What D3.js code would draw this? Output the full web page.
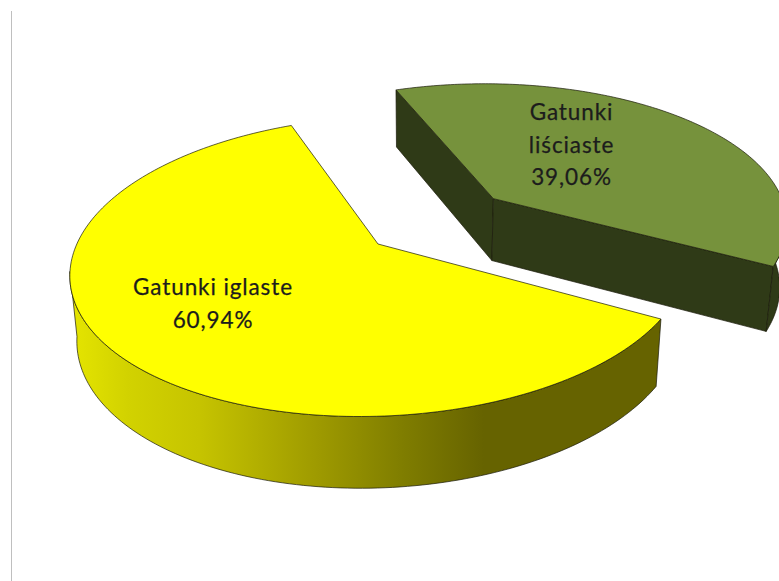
<!DOCTYPE html>
<html>
<head>
<meta charset="utf-8">
<script src="https://cdn.jsdelivr.net/npm/d3@7"></script>
<style>
  html, body { margin: 0; padding: 0; background: #fff; overflow: hidden; }
  svg { display: block; }
</style>
</head>
<body>
<svg id="chart" width="779" height="581"></svg>
<script>
const categories = ['Gatunki iglaste', 'Gatunki liściaste'];
const values = [60.94, 39.06];
const percentLabels = ['60,94%', '39,06%'];
const labelLines = [['Gatunki iglaste', '60,94%'], ['Gatunki', 'liściaste', '39,06%']];

const width = 779, height = 581;
// pie plane seen in perspective, slightly turned
const center = { x: 378, y: 244 };
const radiusX = 305.5, radiusY = 146.2, perspective = 0.15, turn = 0.04;
const explode = [0, 0.494];
const explodeTilt = 1.5 * Math.PI / 180;
// the far rim looks a bit flatter than a true circle
const flatten = [0, 0.05];
const startAngle = (90 + 32.8) * Math.PI / 180;

// top face to screen
function top3d(u, v) {
  let w = 1 - perspective * v;
  let X = radiusX * u / w, Y = radiusY * v / w;
  return [center.x + X + turn * Y, center.y + Y - turn * X];
}
// bottom face is the top one moved down and pulled a bit to the vanishing point
function bottom3d(u, v) {
  let p = top3d(u, v);
  return [p[0] - 0.02 * (p[0] - 420), 1.045 * p[1] + 53];
}

const pie = d3.pie().sort(null).startAngle(startAngle).endAngle(startAngle + 2 * Math.PI);
const slices = pie(values);
const line = d3.line();

const svg = d3.select('#chart');

const defs = svg.append('defs');
const grad = defs.append('linearGradient')
  .attr('id', 'sideYellow')
  .attr('gradientUnits', 'userSpaceOnUse')
  .attr('x1', 68).attr('x2', 662).attr('y1', 0).attr('y2', 0);
[[0, '#e6e600'], [0.1, '#d2d200'], [0.22, '#c6c400'], [0.42, '#9e9a00'], [0.56, '#807e00'], [0.7, '#666300'], [1, '#666300']]
  .forEach(s => grad.append('stop').attr('offset', s[0]).attr('stop-color', s[1]));

// thin grey rule on the left
svg.append('line')
  .attr('x1', 11.5).attr('x2', 11.5).attr('y1', 11).attr('y2', height)
  .attr('stroke', '#bfbfbf').attr('stroke-width', 1);

const topColors = ['#ffff00', '#76923c'];
const sideColors = ['url(#sideYellow)', '#2f3a17'];
const strokeColor = '#1a1a0a';

// draw the green slice first, it sits behind the yellow one
[1, 0].forEach(i => {
  let s = slices[i];
  let a0 = s.startAngle - Math.PI / 2, a1 = s.endAngle - Math.PI / 2;
  let mid = (a0 + a1) / 2 + explodeTilt;
  let ox = explode[i] * Math.cos(mid), oy = explode[i] * Math.sin(mid);
  let angles = d3.range(0, 181).map(k => a0 + (a1 - a0) * k / 180);
  let rimAt = a => {
    let r = 1 - flatten[i] * Math.sin(Math.PI * (a - a0) / (a1 - a0));
    return [ox + r * Math.cos(a), oy + r * Math.sin(a)];
  };
  let rim = angles.map(rimAt);
  let front = angles.filter(a => Math.sin(a) > 0.1).map(rimAt);
  let g = svg.append('g');

  // inner walls, only the exploded slice shows them
  if (explode[i] > 0) {
    [rim[0], rim[rim.length - 1]].forEach(r => {
      let pts = [top3d(ox, oy), top3d(r[0], r[1]), bottom3d(r[0], r[1]), bottom3d(ox, oy)];
      g.append('path')
        .attr('d', line(pts) + 'Z')
        .attr('fill', sideColors[i])
        .attr('stroke', strokeColor).attr('stroke-width', 0.7).attr('stroke-linejoin', 'round');
    });
  }

  // outer wall, the part that faces the viewer
  let wall = front.map(r => top3d(r[0], r[1]))
    .concat(front.slice().reverse().map(r => bottom3d(r[0], r[1])));
  g.append('path')
    .attr('d', line(wall) + 'Z')
    .attr('fill', sideColors[i])
    .attr('stroke', strokeColor).attr('stroke-width', 0.7).attr('stroke-linejoin', 'round');

  // top face
  let face = [top3d(ox, oy)].concat(rim.map(r => top3d(r[0], r[1])));
  g.append('path')
    .attr('d', line(face) + 'Z')
    .attr('fill', topColors[i])
    .attr('stroke', strokeColor).attr('stroke-width', 0.7).attr('stroke-linejoin', 'round');
});

// labels
const labelPos = [{ x: 213, y: 295 }, { x: 571.5, y: 120 }];
const lineGap = [33, 32.5];
labelLines.forEach((lines, i) => {
  let t = svg.append('text')
    .attr('text-anchor', 'middle')
    .attr('font-family', 'Lato, "Open Sans", sans-serif')
    .attr('font-size', 22.5)
    .attr('letter-spacing', 0.9)
    .attr('fill', '#1c1c1c')
    .attr('stroke', '#1c1c1c')
    .attr('stroke-width', 0.25);
  lines.forEach((txt, k) => {
    t.append('tspan')
      .attr('x', labelPos[i].x)
      .attr('y', labelPos[i].y + k * lineGap[i])
      .text(txt);
  });
});
</script>
</body>
</html>
